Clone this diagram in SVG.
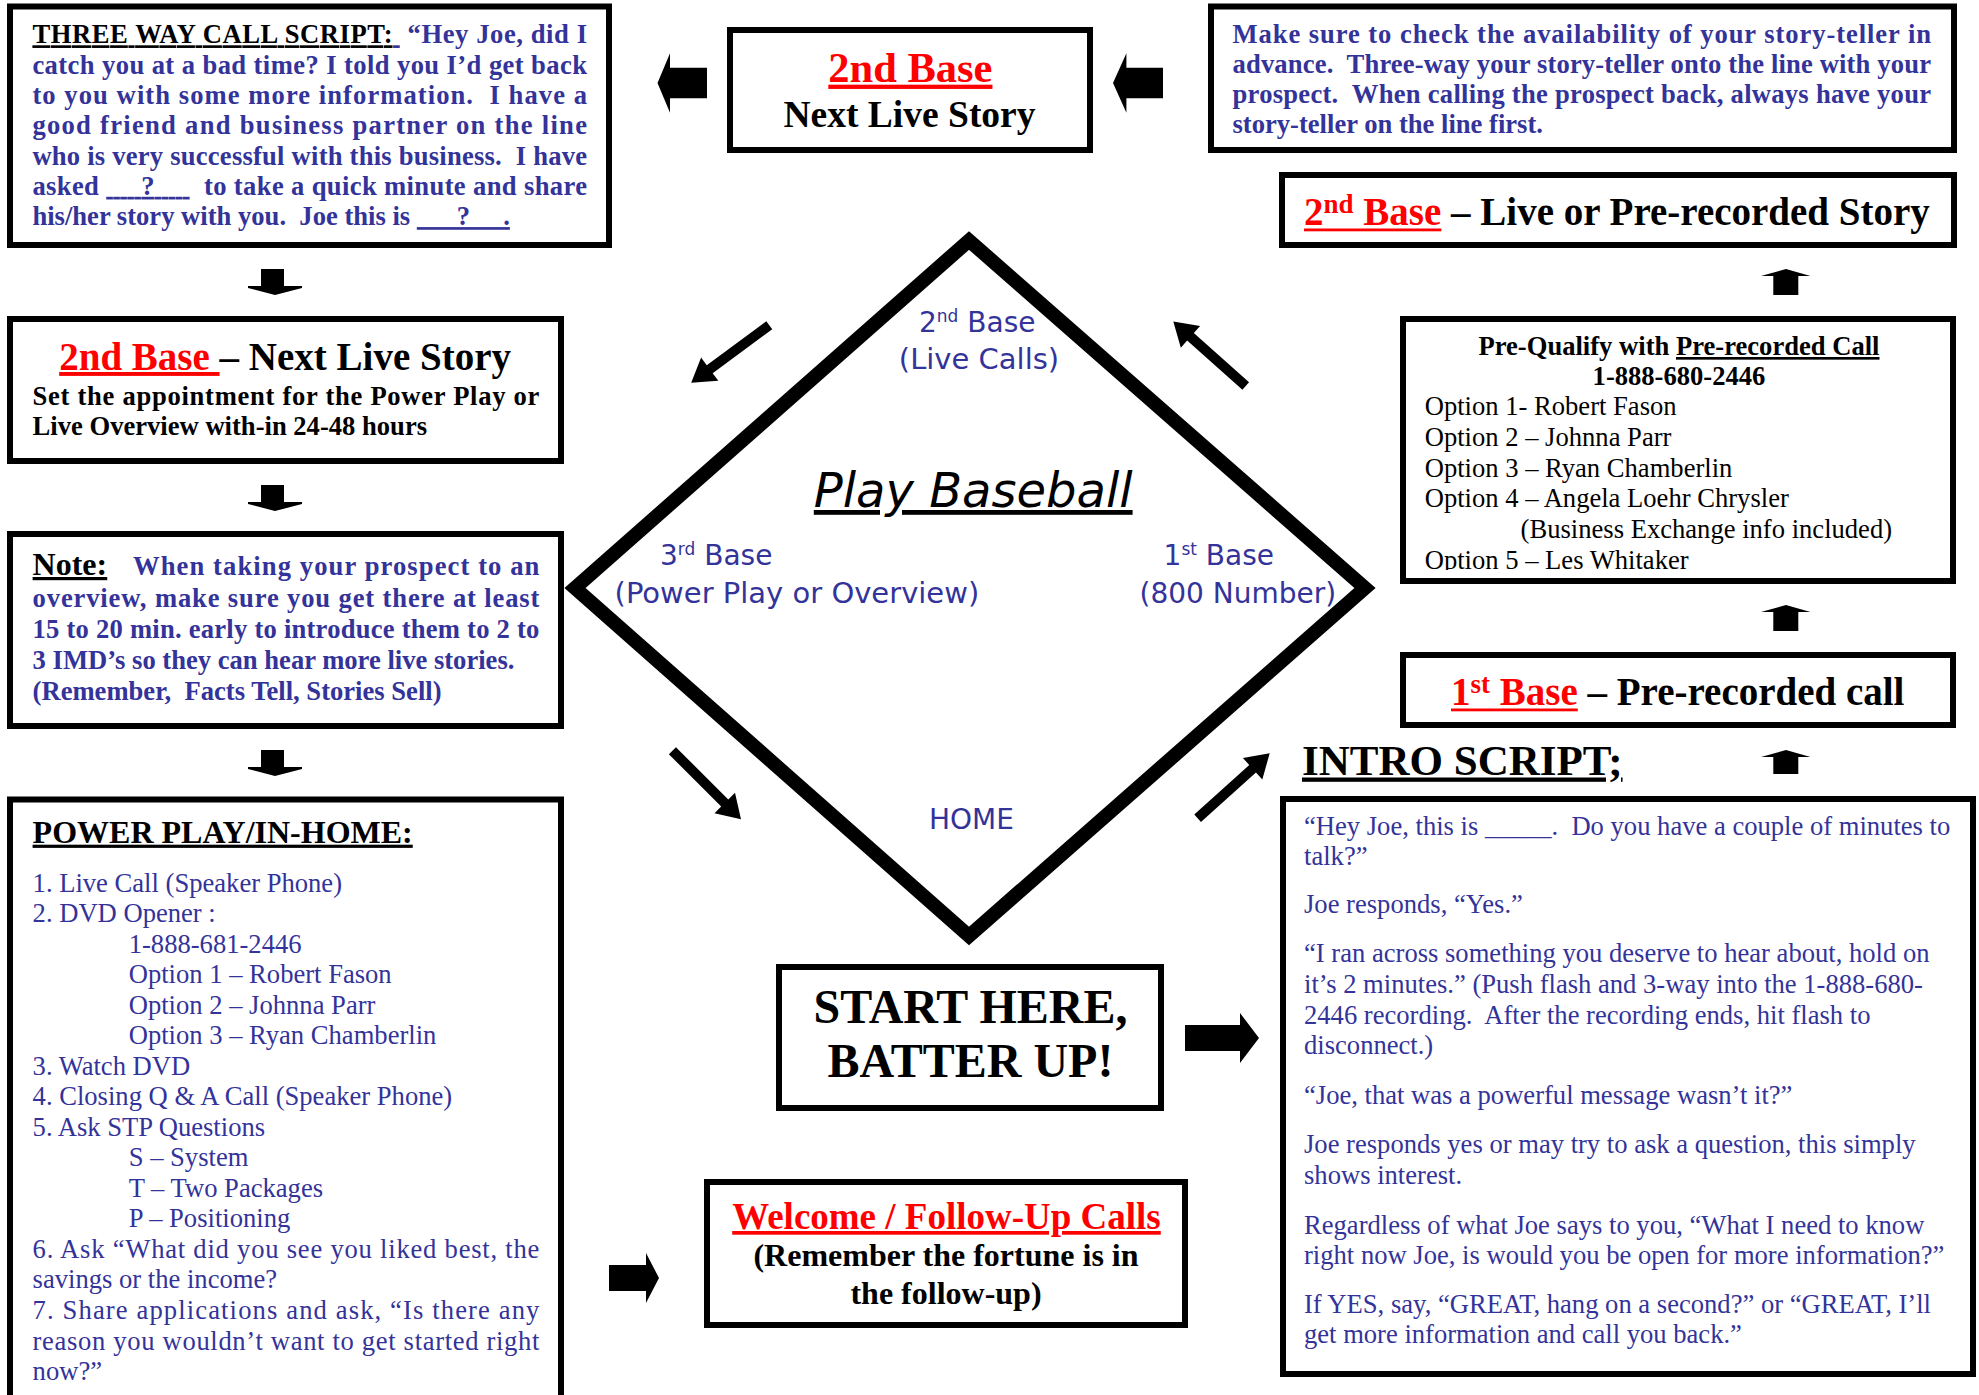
<svg xmlns="http://www.w3.org/2000/svg" xmlns:xlink="http://www.w3.org/1999/xlink" width="1979" height="1395" viewBox="0 0 1979 1395">
<style>
.box{fill:#fff;stroke:#000;stroke-width:6}
.t{font-family:"Liberation Serif","Times New Roman",serif;font-size:26.6px}
.b{font-weight:bold}
.bl{fill:#333399}
.rd{fill:#ff0000}
.k{fill:#000}
.u{text-decoration:underline}
.s{font-family:"DejaVu Sans",Verdana,sans-serif;font-size:28px;fill:#333399}
.arr{fill:#000}
.sup{font-size:27px;baseline-shift:12px}
.dsup{font-size:17px}
</style>
<defs>
<path id="da" d="M-97,-5 L-23,-5 L-23,-14.5 L0,0 L-23,14.5 L-23,5 L-97,5 Z"/>
<clipPath id="pqclip"><rect x="1400" y="316" width="556" height="254"/></clipPath>
</defs>
<rect width="1979" height="1395" fill="#fff"/>

<g id="three-way-call">
<rect class="box" x="10" y="6.5" width="599" height="238.5"/>
<text class="t b bl" x="32.4" y="43.3" textLength="554.6" lengthAdjust="spacing"><tspan class="k u">THREE WAY CALL SCRIPT:</tspan><tspan class="u">&#160;</tspan> “Hey Joe, did I</text>
<text class="t b bl" x="32.4" y="73.6" textLength="554.6" lengthAdjust="spacing">catch you at a bad time? I told you I’d get back</text>
<text class="t b bl" x="32.4" y="103.9" textLength="554.6" lengthAdjust="spacing">to you with some more information.&#160; I have a</text>
<text class="t b bl" x="32.4" y="134.2" textLength="554.6" lengthAdjust="spacing">good friend and business partner on the line</text>
<text class="t b bl" x="32.4" y="164.5" textLength="554.6" lengthAdjust="spacing">who is very successful with this business.&#160; I have</text>
<text class="t b bl" x="32.4" y="194.8" textLength="554.6" lengthAdjust="spacing">asked <tspan class="u">&#160;&#160;&#160;&#160;&#160;?&#160;&#160;&#160;&#160;&#160;</tspan>&#160; to take a quick minute and share</text>
<text class="t b bl" x="32.4" y="225.1">his/her story with you.&#160; Joe this is <tspan class="u">&#160;&#160;&#160;&#160;&#160;&#160;?&#160;&#160;&#160;&#160;&#160;.</tspan></text>
</g>

<g id="second-base-next-live-top">
<rect class="box" x="730" y="30" width="360" height="120"/>
<text class="t b rd u" x="910.4" y="81.7" text-anchor="middle" style="font-size:42.5px">2nd Base</text>
<text class="t b k" x="909.5" y="126.7" text-anchor="middle" style="font-size:37.5px">Next Live Story</text>
</g>

<g id="storyteller-note">
<rect class="box" x="1211" y="6.5" width="743" height="143.5"/>
<text class="t b bl" x="1232.5" y="43.3" textLength="698.5" lengthAdjust="spacing">Make sure to check the availability of your story-teller in</text>
<text class="t b bl" x="1232.5" y="73.3" textLength="698.5" lengthAdjust="spacing">advance.&#160; Three-way your story-teller onto the line with your</text>
<text class="t b bl" x="1232.5" y="103.3" textLength="698.5" lengthAdjust="spacing">prospect.&#160; When calling the prospect back, always have your</text>
<text class="t b bl" x="1232.5" y="133.3">story-teller on the line first.</text>
</g>

<g id="second-base-live-or-prerecorded">
<rect class="box" x="1282" y="175" width="672" height="70"/>
<text class="t b" x="1304" y="225" style="font-size:39px"><tspan class="rd">2<tspan class="sup">nd</tspan><tspan> Base</tspan></tspan><tspan class="k"> – Live or Pre-recorded Story</tspan></text>
<rect x="1304" y="228.5" width="137.3" height="2.8" fill="#ff0000"/>
</g>

<g id="prequalify">
<rect class="box" x="1403" y="319" width="550" height="262"/>
<text class="t b k" x="1679" y="355" text-anchor="middle">Pre-Qualify with <tspan class="u">Pre-recorded Call</tspan></text>
<text class="t b k" x="1679" y="385" text-anchor="middle">1-888-680-2446</text>
<text class="t k" x="1424.7" y="415">Option 1- Robert Fason</text>
<text class="t k" x="1424.7" y="445.7">Option 2 – Johnna Parr</text>
<text class="t k" x="1424.7" y="476.5">Option 3 – Ryan Chamberlin</text>
<text class="t k" x="1424.7" y="507">Option 4 – Angela Loehr Chrysler</text>
<text class="t k" x="1520.6" y="538.3">(Business Exchange info included)</text>
<text class="t k" x="1424.7" y="568.5" clip-path="url(#pqclip)">Option 5 – Les Whitaker</text>
</g>

<g id="first-base">
<rect class="box" x="1403" y="655" width="550" height="70"/>
<text class="t b" x="1451" y="705" style="font-size:39px"><tspan class="rd">1<tspan class="sup">st</tspan><tspan> Base</tspan></tspan><tspan class="k"> – Pre-recorded call</tspan></text>
<rect x="1451" y="708.5" width="126.8" height="2.8" fill="#ff0000"/>
</g>

<g id="intro-script-title">
<text class="t b k u" x="1302" y="774.5" style="font-size:43px">INTRO SCRIPT;</text>
</g>

<g id="intro-script">
<rect class="box" x="1283" y="799" width="690" height="575"/>
<text class="t bl" x="1304" y="835.2">“Hey Joe, this is _____.&#160; Do you have a couple of minutes to</text>
<text class="t bl" x="1304" y="864.9">talk?”</text>
<text class="t bl" x="1304" y="913.2">Joe responds, “Yes.”</text>
<text class="t bl" x="1304" y="962.4">“I ran across something you deserve to hear about, hold on</text>
<text class="t bl" x="1304" y="993">it’s 2 minutes.” (Push flash and 3-way into the 1-888-680-</text>
<text class="t bl" x="1304" y="1023.5">2446 recording.&#160; After the recording ends, hit flash to</text>
<text class="t bl" x="1304" y="1054.4">disconnect.)</text>
<text class="t bl" x="1304" y="1104">“Joe, that was a powerful message wasn’t it?”</text>
<text class="t bl" x="1304" y="1153.2">Joe responds yes or may try to ask a question, this simply</text>
<text class="t bl" x="1304" y="1183.8">shows interest.</text>
<text class="t bl" x="1304" y="1233.8">Regardless of what Joe says to you, “What I need to know</text>
<text class="t bl" x="1304" y="1263.5">right now Joe, is would you be open for more information?”</text>
<text class="t bl" x="1304" y="1313">If YES, say, “GREAT, hang on a second?” or “GREAT, I’ll</text>
<text class="t bl" x="1304" y="1342.8">get more information and call you back.”</text>
</g>

<g id="second-base-next-live-left">
<rect class="box" x="10" y="319" width="551" height="142"/>
<text class="t b" x="59.2" y="370" style="font-size:39px"><tspan class="rd u">2nd Base </tspan><tspan class="k">– Next Live Story</tspan></text>
<text class="t b k" x="32.6" y="405" textLength="506.8" lengthAdjust="spacing">Set the appointment for the Power Play or</text>
<text class="t b k" x="32.6" y="435">Live Overview with-in 24-48 hours</text>
</g>

<g id="note">
<rect class="box" x="10" y="534" width="551" height="192"/>
<text class="t b k u" x="32.6" y="575" style="font-size:32px">Note:</text>
<text class="t b bl" x="133" y="575" textLength="406.4" lengthAdjust="spacing">When taking your prospect to an</text>
<text class="t b bl" x="32.6" y="606.7" textLength="506.8" lengthAdjust="spacing">overview, make sure you get there at least</text>
<text class="t b bl" x="32.6" y="638.3" textLength="506.8" lengthAdjust="spacing">15 to 20 min. early to introduce them to 2 to</text>
<text class="t b bl" x="32.6" y="669.3">3 IMD’s so they can hear more live stories.</text>
<text class="t b bl" x="32.6" y="700">(Remember,&#160; Facts Tell, Stories Sell)</text>
</g>

<g id="power-play">
<rect class="box" x="10" y="799.5" width="551" height="700"/>
<text class="t b k u" x="32.6" y="842.7" style="font-size:32px">POWER PLAY/IN-HOME:</text>
<text class="t bl" x="32.6" y="891.8">1. Live Call (Speaker Phone)</text>
<text class="t bl" x="32.6" y="922.3">2. DVD Opener :</text>
<text class="t bl" x="128.7" y="952.8">1-888-681-2446</text>
<text class="t bl" x="128.7" y="983.3">Option 1 – Robert Fason</text>
<text class="t bl" x="128.7" y="1013.8">Option 2 – Johnna Parr</text>
<text class="t bl" x="128.7" y="1044.4">Option 3 – Ryan Chamberlin</text>
<text class="t bl" x="32.6" y="1074.9">3. Watch DVD</text>
<text class="t bl" x="32.6" y="1105.4">4. Closing Q &amp; A Call (Speaker Phone)</text>
<text class="t bl" x="32.6" y="1135.9">5. Ask STP Questions</text>
<text class="t bl" x="128.7" y="1166.4">S – System</text>
<text class="t bl" x="128.7" y="1196.9">T – Two Packages</text>
<text class="t bl" x="128.7" y="1227.4">P – Positioning</text>
<text class="t bl" x="32.6" y="1257.9" textLength="506.8" lengthAdjust="spacing">6. Ask “What did you see you liked best, the</text>
<text class="t bl" x="32.6" y="1288.4">savings or the income?</text>
<text class="t bl" x="32.6" y="1319" textLength="506.8" lengthAdjust="spacing">7. Share applications and ask, “Is there any</text>
<text class="t bl" x="32.6" y="1349.5" textLength="506.8" lengthAdjust="spacing">reason you wouldn’t want to get started right</text>
<text class="t bl" x="32.6" y="1380">now?”</text>
</g>

<g id="diamond">
<polygon points="969,240.5 1365,588 969,936 575,588" fill="none" stroke="#000" stroke-width="14" stroke-linejoin="miter"/>
<text class="s" x="919" y="332">2<tspan class="dsup" baseline-shift="super">nd</tspan> Base</text>
<text class="s" x="979" y="369" text-anchor="middle" style="font-size:29px">(Live Calls)</text>
<text x="973.2" y="507" text-anchor="middle" font-family="DejaVu Sans, Verdana, sans-serif" font-style="italic" font-size="48" fill="#000" text-decoration="underline">Play Baseball</text>
<text class="s" x="660" y="565">3<tspan class="dsup" baseline-shift="super">rd</tspan> Base</text>
<text class="s" x="614.6" y="603" style="font-size:29px">(Power Play or Overview)</text>
<text class="s" x="1163.6" y="565">1<tspan class="dsup" baseline-shift="super">st</tspan> Base</text>
<text class="s" x="1139.5" y="603">(800 Number)</text>
<text class="s" x="971.4" y="829" text-anchor="middle">HOME</text>
</g>

<g id="start-here">
<rect class="box" x="779" y="967" width="382" height="141"/>
<text class="t b k" x="970.5" y="1023" text-anchor="middle" style="font-size:48px">START HERE,</text>
<text class="t b k" x="970.5" y="1077" text-anchor="middle" style="font-size:48px">BATTER UP!</text>
</g>

<g id="welcome-follow-up">
<rect class="box" x="707" y="1182" width="478" height="143"/>
<text class="t b rd u" x="946.5" y="1229" text-anchor="middle" style="font-size:37px">Welcome / Follow-Up Calls</text>
<text class="t b k" x="946" y="1266" text-anchor="middle" style="font-size:32px">(Remember the fortune is in</text>
<text class="t b k" x="946" y="1304" text-anchor="middle" style="font-size:32px">the follow-up)</text>
</g>

<g id="connectors">
<polygon class="arr" points="657.5,83 670,53.3 670,67.7 707,67.7 707,98.3 670,98.3 670,112.7"/>
<polygon class="arr" points="1113,83 1126.4,53.3 1126.4,67.7 1163,67.7 1163,98.3 1126.4,98.3 1126.4,112.7"/>
<polygon class="arr" points="261,269 284,269 284,286 302,286 302,288 275,295 248,288 248,286 261,286"/>
<polygon class="arr" points="261,485 284,485 284,502 302,502 302,504 275,511 248,504 248,502 261,502"/>
<polygon class="arr" points="261,750 284,750 284,767 302,767 302,769 275,776 248,769 248,767 261,767"/>
<polygon class="arr" points="1786,269 1810.5,276 1798.3,276 1798.3,295 1773.3,295 1773.3,276 1761,276"/>
<polygon class="arr" points="1786,605 1810.5,612 1798.3,612 1798.3,631 1773.3,631 1773.3,612 1761,612"/>
<polygon class="arr" points="1786,750 1810.5,757 1798.3,757 1798.3,774 1773.3,774 1773.3,757 1761,757"/>
<polygon class="arr" points="1185,1025 1240,1025 1240,1013 1259,1038 1240,1063 1240,1051 1185,1051"/>
<polygon class="arr" points="609,1265 646,1265 646,1253 659,1278 646,1303 646,1291 609,1291"/>
<use xlink:href="#da" class="arr" transform="translate(691.2,382.8) rotate(143.6)"/>
<use xlink:href="#da" class="arr" transform="translate(1173.3,321.5) rotate(-138.3)"/>
<use xlink:href="#da" class="arr" transform="translate(741,819.3) rotate(45)"/>
<use xlink:href="#da" class="arr" transform="translate(1269.7,753.3) rotate(-42)"/>
</g>
</svg>
